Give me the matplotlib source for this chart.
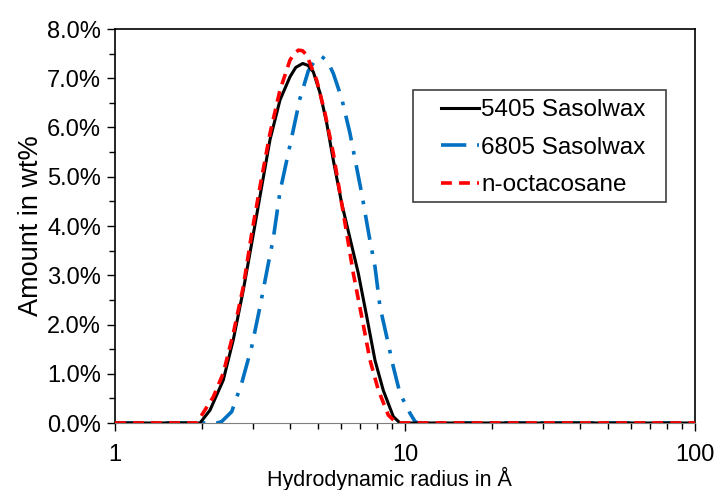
import matplotlib.pyplot as plt
from matplotlib.patches import Rectangle
from matplotlib.ticker import FixedLocator, FuncFormatter, MultipleLocator
import numpy as np

plt.rcParams['font.family'] = ['Liberation Sans', 'DejaVu Sans']

# values (radius in Angstrom, amount in wt%)
r_5405 = [1.0, 1.964, 2.126, 2.362, 2.558, 2.770, 2.961, 3.205, 3.423, 3.707, 4.013,
          4.2, 4.439, 4.63, 4.828, 5.093, 5.370, 5.658, 6.050, 6.461, 6.902, 7.380,
          7.882, 8.419, 9.114, 9.61, 100.0]
w_5405 = [0.0, 0.0, 0.26, 0.87, 1.69, 2.70, 3.65, 4.80, 5.75, 6.56, 7.03,
          7.22, 7.30, 7.26, 7.13, 6.70, 6.09, 5.34, 4.46, 3.75, 3.04, 2.16,
          1.27, 0.66, 0.13, 0.0, 0.0]

r_6805 = [1.0, 2.25, 2.333, 2.526, 2.735, 2.961, 3.162, 3.379, 3.515, 3.707, 4.013,
          4.344, 4.641, 4.9, 5.163, 5.4, 5.658, 6.050, 6.461, 7.091, 7.531, 7.882,
          8.200, 8.649, 9.114, 9.61, 10.40, 10.83, 11.1, 100.0]
w_6805 = [0.0, 0.0, 0.03, 0.23, 0.81, 1.55, 2.36, 3.24, 3.75, 4.70, 5.64,
          6.59, 7.15, 7.37, 7.44, 7.35, 7.10, 6.59, 5.88, 4.66, 3.78, 3.17,
          2.36, 1.75, 1.14, 0.60, 0.20, 0.03, 0.0, 0.0]

r_c28 = [1.0, 1.913, 2.183, 2.362, 2.558, 2.770, 2.961, 3.162, 3.423, 3.707, 4.013,
         4.15, 4.287, 4.43, 4.581, 4.961, 5.298, 5.658, 5.969, 6.295, 6.632, 7.091,
         7.572, 8.090, 8.759, 9.363, 100.0]
w_c28 = [0.0, 0.0, 0.53, 1.01, 1.82, 2.77, 3.85, 4.80, 5.88, 6.76, 7.37,
         7.50, 7.57, 7.56, 7.47, 6.96, 6.29, 5.48, 4.66, 3.85, 3.04, 2.16,
         1.28, 0.67, 0.16, 0.0, 0.0]

fig = plt.figure(figsize=(7.21, 4.90), dpi=100)
ax = fig.add_axes([115 / 721, 1 - 423 / 490, 580 / 721, 394 / 490])

ax.plot(r_5405, w_5405, color='black', lw=2.2, label='5405 Sasolwax', zorder=3)
ax.plot(r_6805, w_6805, color='#0070C0', lw=2.6, dashes=(7, 3, 1, 3),
        label='6805 Sasolwax', zorder=2)
ax.plot(r_c28, w_c28, color='#FF0000', lw=2.6, dashes=(3, 2),
        label='n-octacosane', zorder=4)

ax.set_xscale('log')
ax.set_xlim(1, 100)
ax.set_ylim(0, 8)
ax.xaxis.set_major_locator(FixedLocator([1, 10, 100]))
ax.xaxis.set_major_formatter(FuncFormatter(lambda v, p: f'{v:g}'))
ax.xaxis.set_minor_locator(FixedLocator([k * 10 ** d for d in (0, 1) for k in range(2, 10)]))
ax.xaxis.set_minor_formatter(FuncFormatter(lambda v, p: ''))
ax.yaxis.set_major_locator(MultipleLocator(1))
ax.yaxis.set_minor_locator(MultipleLocator(0.5))
ax.yaxis.set_major_formatter(FuncFormatter(lambda v, p: f'{v:.1f}%'))

ax.tick_params(which='major', direction='out', length=6, width=1, labelsize=17, colors='black')
ax.tick_params(which='minor', direction='out', length=4, width=1)
ax.tick_params(axis='x', which='major', pad=9)
ax.tick_params(axis='y', which='major', pad=4)
ax.spines['bottom'].set_color('#7f7f7f')
for s in ('left', 'top', 'right'):
    ax.spines[s].set_linewidth(1.2)

ax.set_xlabel('Hydrodynamic radius in Å', fontsize=15.5)
ax.xaxis.set_label_coords(0.474, -0.112)
ax.set_ylabel('Amount in wt%', fontsize=19.5, labelpad=2)

# legend frame drawn separately: the box is much wider than its content
ax.add_patch(Rectangle((0.514, 0.561), 0.436, 0.284, transform=ax.transAxes,
                       facecolor='white', edgecolor='#404040', lw=1.2, zorder=5))
leg = ax.legend(loc='upper left', bbox_to_anchor=(0.562, 0.822), fontsize=17.5,
                frameon=False, handlelength=1.55, handletextpad=0.1, borderpad=0,
                labelspacing=0.64, borderaxespad=0)
leg.set_zorder(6)

fig.savefig('out.png', dpi=100)
